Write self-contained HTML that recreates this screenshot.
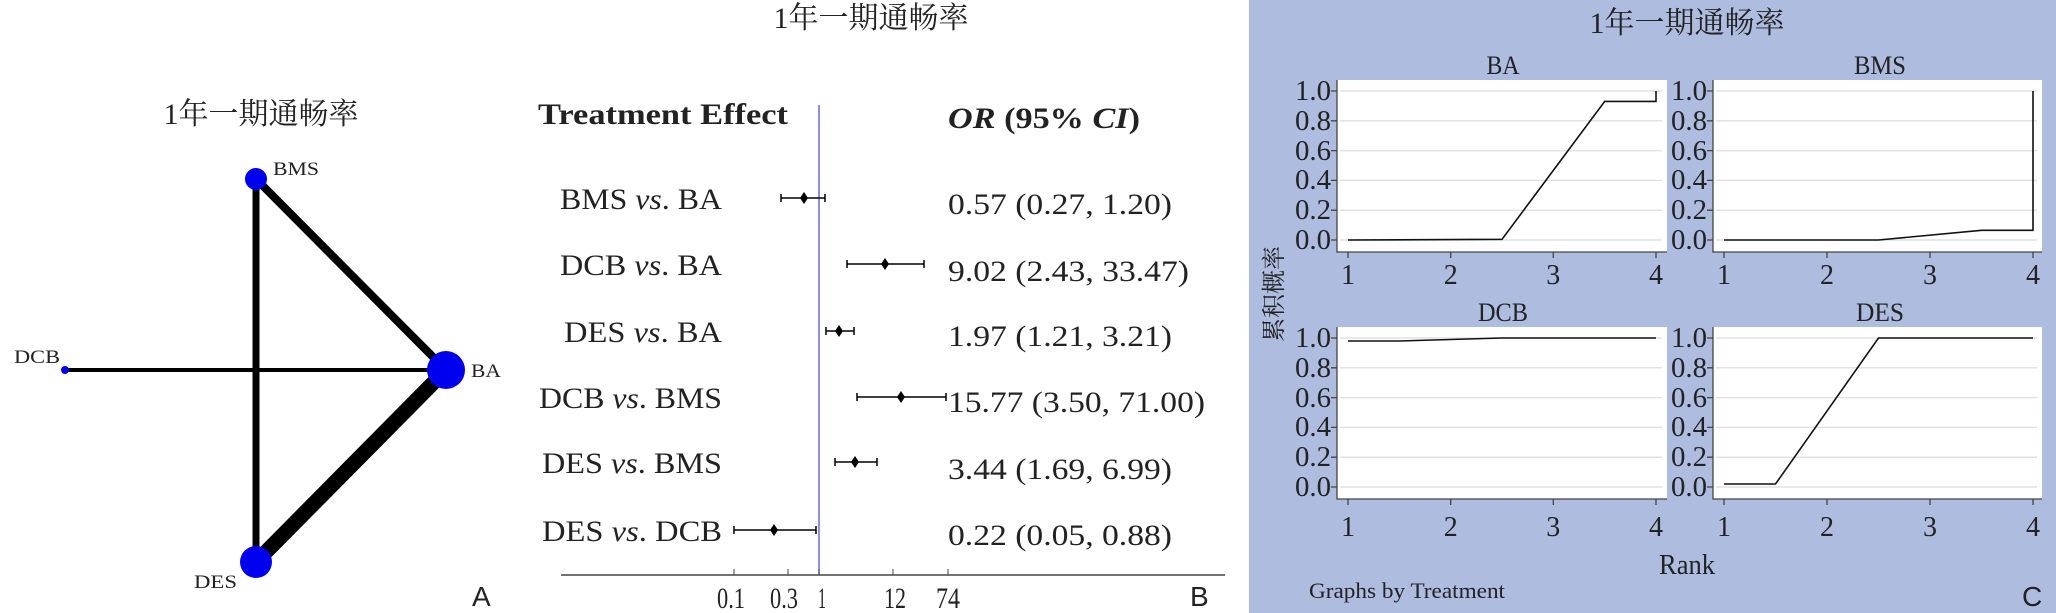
<!DOCTYPE html>
<html><head><meta charset="utf-8"><style>
html,body{margin:0;padding:0;background:#fff;}
svg{display:block;}
text{font-family:"Liberation Serif","Noto Serif CJK SC",serif;fill:#222;}
.cj{font-family:"Liberation Serif","Noto Serif CJK SC","Noto Sans CJK SC",serif;}
.sans{font-family:"Liberation Sans",sans-serif;}
</style></head><body>
<svg width="2056" height="613" viewBox="0 0 2056 613" xmlns="http://www.w3.org/2000/svg">
<rect width="2056" height="613" fill="#fff"/>
<!-- Panel A -->
<text class="cj" x="261" y="124" font-size="30" text-anchor="middle">1年一期通畅率</text>
<g stroke="#000" stroke-linecap="butt">
<line x1="256" y1="179" x2="446" y2="370" stroke-width="8"/>
<line x1="256" y1="179" x2="256" y2="562" stroke-width="7"/>
<line x1="65" y1="370" x2="446" y2="370" stroke-width="4"/>
<line x1="446" y1="370" x2="256" y2="562" stroke-width="15"/>
</g>
<circle cx="256" cy="179" r="11" fill="#0000ee"/>
<circle cx="446" cy="370" r="19" fill="#0000ee"/>
<circle cx="256" cy="562" r="16" fill="#0000ee"/>
<circle cx="65" cy="370" r="4" fill="#0000ee"/>
<text x="273" y="175" font-size="19" textLength="46" lengthAdjust="spacingAndGlyphs">BMS</text>
<text x="471" y="377" font-size="19" textLength="30" lengthAdjust="spacingAndGlyphs">BA</text>
<text x="14" y="363" font-size="19" textLength="46" lengthAdjust="spacingAndGlyphs">DCB</text>
<text x="194" y="588" font-size="19" textLength="43" lengthAdjust="spacingAndGlyphs">DES</text>
<text class="sans" x="472" y="606" font-size="28">A</text>

<!-- Panel B -->
<text class="cj" x="871" y="28" font-size="30" text-anchor="middle">1年一期通畅率</text>
<text x="538" y="124" font-size="30" font-weight="bold" textLength="250" lengthAdjust="spacingAndGlyphs">Treatment Effect</text>
<text x="948" y="128" font-size="30" textLength="192" lengthAdjust="spacingAndGlyphs"><tspan font-weight="bold" font-style="italic">OR</tspan><tspan font-weight="bold"> (95% </tspan><tspan font-weight="bold" font-style="italic">CI</tspan><tspan font-weight="bold">)</tspan></text>
<line x1="819" y1="105" x2="819" y2="575" stroke="#6a6ad8" stroke-width="1.5"/>
<g font-size="30">
<text x="722" y="209" text-anchor="end" textLength="162" lengthAdjust="spacingAndGlyphs">BMS <tspan font-style="italic">vs</tspan>. BA</text>
<text x="722" y="275" text-anchor="end" textLength="162" lengthAdjust="spacingAndGlyphs">DCB <tspan font-style="italic">vs</tspan>. BA</text>
<text x="722" y="342" text-anchor="end" textLength="158" lengthAdjust="spacingAndGlyphs">DES <tspan font-style="italic">vs</tspan>. BA</text>
<text x="722" y="408" text-anchor="end" textLength="183" lengthAdjust="spacingAndGlyphs">DCB <tspan font-style="italic">vs</tspan>. BMS</text>
<text x="722" y="473" text-anchor="end" textLength="180" lengthAdjust="spacingAndGlyphs">DES <tspan font-style="italic">vs</tspan>. BMS</text>
<text x="722" y="541" text-anchor="end" textLength="180" lengthAdjust="spacingAndGlyphs">DES <tspan font-style="italic">vs</tspan>. DCB</text>
<text x="948" y="214" textLength="224" lengthAdjust="spacingAndGlyphs">0.57 (0.27, 1.20)</text>
<text x="948" y="281" textLength="241" lengthAdjust="spacingAndGlyphs">9.02 (2.43, 33.47)</text>
<text x="948" y="346" textLength="224" lengthAdjust="spacingAndGlyphs">1.97 (1.21, 3.21)</text>
<text x="948" y="412" textLength="257" lengthAdjust="spacingAndGlyphs">15.77 (3.50, 71.00)</text>
<text x="948" y="479" textLength="224" lengthAdjust="spacingAndGlyphs">3.44 (1.69, 6.99)</text>
<text x="948" y="545" textLength="224" lengthAdjust="spacingAndGlyphs">0.22 (0.05, 0.88)</text>
</g>
<g stroke="#000" stroke-width="1.5">
<line x1="781" y1="198" x2="825" y2="198"/><line x1="781" y1="194" x2="781" y2="202"/><line x1="825" y1="194" x2="825" y2="202"/>
<line x1="847" y1="264" x2="924" y2="264"/><line x1="847" y1="260" x2="847" y2="268"/><line x1="924" y1="260" x2="924" y2="268"/>
<line x1="826" y1="331" x2="854" y2="331"/><line x1="826" y1="327" x2="826" y2="335"/><line x1="854" y1="327" x2="854" y2="335"/>
<line x1="857" y1="397" x2="946" y2="397"/><line x1="857" y1="393" x2="857" y2="401"/><line x1="946" y1="393" x2="946" y2="401"/>
<line x1="835" y1="462" x2="877" y2="462"/><line x1="835" y1="458" x2="835" y2="466"/><line x1="877" y1="458" x2="877" y2="466"/>
<line x1="734" y1="530" x2="816" y2="530"/><line x1="734" y1="526" x2="734" y2="534"/><line x1="816" y1="526" x2="816" y2="534"/>
</g>
<g fill="#000">
<polygon points="804,192 808,198 804,204 800,198"/>
<polygon points="885,258 889,264 885,270 881,264"/>
<polygon points="839,325 843,331 839,337 835,331"/>
<polygon points="901,391 905,397 901,403 897,397"/>
<polygon points="855,456 859,462 855,468 851,462"/>
<polygon points="774,524 778,530 774,536 770,530"/>
</g>
<line x1="561" y1="575" x2="1225" y2="575" stroke="#444" stroke-width="1.5"/>
<g stroke="#444" stroke-width="1"><line x1="734" y1="569" x2="734" y2="575"/><line x1="788" y1="569" x2="788" y2="575"/><line x1="819" y1="569" x2="819" y2="575"/><line x1="893" y1="569" x2="893" y2="575"/><line x1="948" y1="569" x2="948" y2="575"/></g>
<g font-size="30" text-anchor="middle">
<text x="731" y="608" textLength="28" lengthAdjust="spacingAndGlyphs">0.1</text>
<text x="784" y="608" textLength="28" lengthAdjust="spacingAndGlyphs">0.3</text>
<text x="822" y="608" textLength="8" lengthAdjust="spacingAndGlyphs">1</text>
<text x="895" y="608" textLength="22" lengthAdjust="spacingAndGlyphs">12</text>
<text x="948" y="608" textLength="24" lengthAdjust="spacingAndGlyphs">74</text>
</g>
<text class="sans" x="1190" y="606" font-size="28">B</text>

<!-- Panel C -->
<rect x="1249" y="0" width="807" height="613" fill="#aebce0"/>
<text class="cj" x="1687" y="33" font-size="30" text-anchor="middle">1年一期通畅率</text>
<g font-size="26" text-anchor="middle">
<text x="1503" y="74" textLength="33" lengthAdjust="spacingAndGlyphs">BA</text>
<text x="1880" y="74" textLength="52" lengthAdjust="spacingAndGlyphs">BMS</text>
<text x="1503" y="321" textLength="50" lengthAdjust="spacingAndGlyphs">DCB</text>
<text x="1880" y="321" textLength="48" lengthAdjust="spacingAndGlyphs">DES</text>
</g>
<g fill="#fff"><rect x="1337" y="80" width="330" height="172"/><rect x="1713" y="80" width="329" height="172"/><rect x="1337" y="327" width="330" height="172"/><rect x="1713" y="327" width="329" height="172"/></g>
<g stroke="#e2e2e2" stroke-width="1.5">
<path d="M1340 91H1662M1340 120.8H1662M1340 150.6H1662M1340 180.4H1662M1340 210.2H1662M1340 240H1662"/>
<path d="M1716 91H2037M1716 120.8H2037M1716 150.6H2037M1716 180.4H2037M1716 210.2H2037M1716 240H2037"/>
<path d="M1340 338H1662M1340 367.8H1662M1340 397.6H1662M1340 427.4H1662M1340 457.2H1662M1340 487H1662"/>
<path d="M1716 338H2037M1716 367.8H2037M1716 397.6H2037M1716 427.4H2037M1716 457.2H2037M1716 487H2037"/>
</g>
<g stroke="#444" stroke-width="1.3" fill="none">
<path d="M1337 80V252H1667"/><path d="M1713 80V252H2042"/><path d="M1337 327V499H1667"/><path d="M1713 327V499H2042"/>
<path d="M1331 91H1337M1331 120.8H1337M1331 150.6H1337M1331 180.4H1337M1331 210.2H1337M1331 240H1337"/>
<path d="M1707 91H1713M1707 120.8H1713M1707 150.6H1713M1707 180.4H1713M1707 210.2H1713M1707 240H1713"/>
<path d="M1331 338H1337M1331 367.8H1337M1331 397.6H1337M1331 427.4H1337M1331 457.2H1337M1331 487H1337"/>
<path d="M1707 338H1713M1707 367.8H1713M1707 397.6H1713M1707 427.4H1713M1707 457.2H1713M1707 487H1713"/>
<path d="M1348 252V258M1450.7 252V258M1553.3 252V258M1656 252V258M1724 252V258M1827 252V258M1930 252V258M2033 252V258"/>
<path d="M1348 499V505M1450.7 499V505M1553.3 499V505M1656 499V505M1724 499V505M1827 499V505M1930 499V505M2033 499V505"/>
</g>
<g stroke="#111" stroke-width="1.6" fill="none">
<polyline points="1348,240 1502,239.3 1604.7,101.4 1656,101.4 1656,91"/>
<polyline points="1724,240 1878.5,240 1981.5,230.3 2033,230.3 2033,91"/>
<polyline points="1348,341 1399.3,341 1502,338 1656,338"/>
<polyline points="1724,484 1775.5,484 1878.5,338 2033,338"/>
</g>
<g font-size="28" text-anchor="end">
<text x="1331" y="100" textLength="36" lengthAdjust="spacingAndGlyphs">1.0</text><text x="1331" y="130" textLength="36" lengthAdjust="spacingAndGlyphs">0.8</text><text x="1331" y="160" textLength="36" lengthAdjust="spacingAndGlyphs">0.6</text><text x="1331" y="189" textLength="36" lengthAdjust="spacingAndGlyphs">0.4</text><text x="1331" y="219" textLength="36" lengthAdjust="spacingAndGlyphs">0.2</text><text x="1331" y="249" textLength="36" lengthAdjust="spacingAndGlyphs">0.0</text>
<text x="1707" y="100" textLength="36" lengthAdjust="spacingAndGlyphs">1.0</text><text x="1707" y="130" textLength="36" lengthAdjust="spacingAndGlyphs">0.8</text><text x="1707" y="160" textLength="36" lengthAdjust="spacingAndGlyphs">0.6</text><text x="1707" y="189" textLength="36" lengthAdjust="spacingAndGlyphs">0.4</text><text x="1707" y="219" textLength="36" lengthAdjust="spacingAndGlyphs">0.2</text><text x="1707" y="249" textLength="36" lengthAdjust="spacingAndGlyphs">0.0</text>
<text x="1331" y="347" textLength="36" lengthAdjust="spacingAndGlyphs">1.0</text><text x="1331" y="377" textLength="36" lengthAdjust="spacingAndGlyphs">0.8</text><text x="1331" y="407" textLength="36" lengthAdjust="spacingAndGlyphs">0.6</text><text x="1331" y="436" textLength="36" lengthAdjust="spacingAndGlyphs">0.4</text><text x="1331" y="466" textLength="36" lengthAdjust="spacingAndGlyphs">0.2</text><text x="1331" y="496" textLength="36" lengthAdjust="spacingAndGlyphs">0.0</text>
<text x="1707" y="347" textLength="36" lengthAdjust="spacingAndGlyphs">1.0</text><text x="1707" y="377" textLength="36" lengthAdjust="spacingAndGlyphs">0.8</text><text x="1707" y="407" textLength="36" lengthAdjust="spacingAndGlyphs">0.6</text><text x="1707" y="436" textLength="36" lengthAdjust="spacingAndGlyphs">0.4</text><text x="1707" y="466" textLength="36" lengthAdjust="spacingAndGlyphs">0.2</text><text x="1707" y="496" textLength="36" lengthAdjust="spacingAndGlyphs">0.0</text>
</g>
<g font-size="28" text-anchor="middle">
<text x="1348" y="284">1</text><text x="1450.7" y="284">2</text><text x="1553.3" y="284">3</text><text x="1656" y="284">4</text>
<text x="1724" y="284">1</text><text x="1827" y="284">2</text><text x="1930" y="284">3</text><text x="2033" y="284">4</text>
<text x="1348" y="536">1</text><text x="1450.7" y="536">2</text><text x="1553.3" y="536">3</text><text x="1656" y="536">4</text>
<text x="1724" y="536">1</text><text x="1827" y="536">2</text><text x="1930" y="536">3</text><text x="2033" y="536">4</text>
</g>
<text x="1687" y="574" font-size="28" text-anchor="middle" textLength="56" lengthAdjust="spacingAndGlyphs">Rank</text>
<text class="cj" x="0" y="0" font-size="24" text-anchor="middle" transform="translate(1282,294) rotate(-90)">累积概率</text>
<text x="1309" y="598" font-size="22" textLength="196" lengthAdjust="spacingAndGlyphs">Graphs by Treatment</text>
<text class="sans" x="2022" y="606" font-size="28">C</text>
</svg>
</body></html>
